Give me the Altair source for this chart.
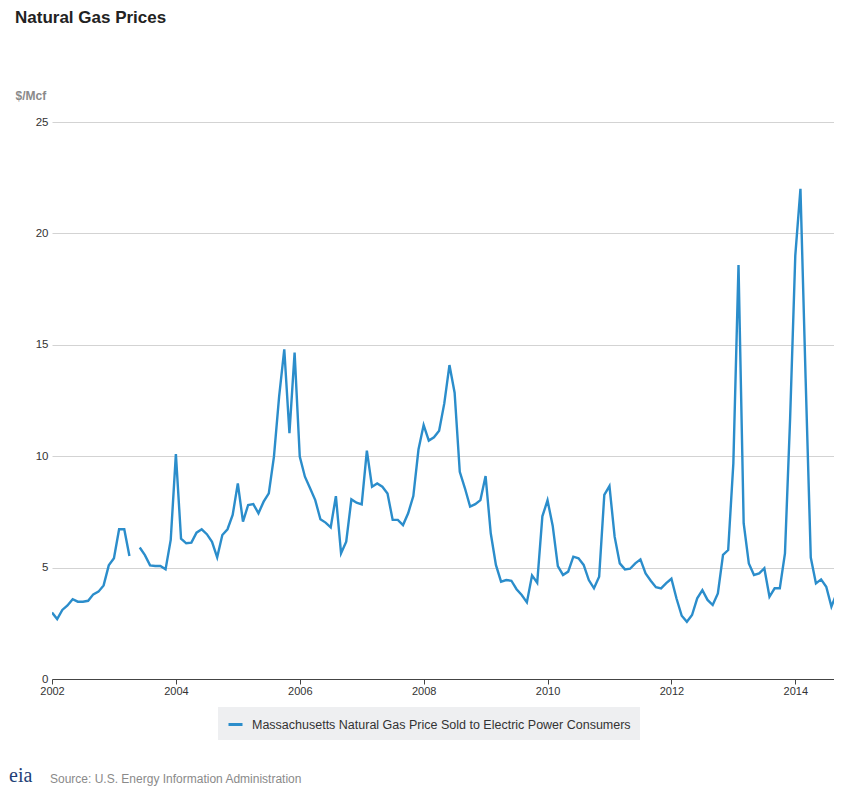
import altair as alt
import pandas as pd

# ---- data (monthly, $/Mcf) ----
start_year = 2002
p2002 = [2.98, 2.69, 3.10, 3.30, 3.58, 3.47, 3.47, 3.51, 3.80, 3.92, 4.20, 5.10]
p2003 = [5.42, 6.72, 6.72, 5.52, None, 5.90, 5.56, 5.10, 5.07, 5.07, 4.92, 6.24]
p2004 = [10.10, 6.30, 6.09, 6.12, 6.57, 6.72, 6.50, 6.16, 5.46, 6.46, 6.72, 7.36]
p2005 = [8.78, 7.06, 7.81, 7.85, 7.44, 7.96, 8.33, 9.98, 12.67, 14.80, 11.03, 14.65]
p2006 = [9.98, 9.08, 8.56, 8.03, 7.17, 7.02, 6.81, 8.21, 5.64, 6.16, 8.06, 7.91]
p2007 = [7.84, 10.25, 8.63, 8.78, 8.63, 8.33, 7.14, 7.14, 6.91, 7.44, 8.21, 10.30]
p2008 = [11.40, 10.70, 10.85, 11.14, 12.37, 14.09, 12.85, 9.30, 8.56, 7.74, 7.85, 8.03]
p2009 = [9.11, 6.54, 5.12, 4.37, 4.44, 4.41, 4.03, 3.77, 3.44, 4.65, 4.32, 7.30]
p2010 = [8.02, 6.88, 5.07, 4.67, 4.82, 5.49, 5.42, 5.12, 4.44, 4.07, 4.59, 8.26]
p2011 = [8.66, 6.39, 5.19, 4.92, 4.95, 5.19, 5.37, 4.74, 4.41, 4.12, 4.07, 4.30]
p2012 = [4.50, 3.60, 2.84, 2.57, 2.87, 3.62, 3.99, 3.55, 3.32, 3.84, 5.57, 5.79]
p2013 = [9.68, 18.58, 6.99, 5.19, 4.67, 4.74, 4.97, 3.69, 4.07, 4.07, 5.64, 11.70]
p2014 = [19.00, 22.00, 13.50, 5.45, 4.29, 4.47, 4.14, 3.25, 3.84]

yearly = [p2002, p2003, p2004, p2005, p2006, p2007, p2008,
          p2009, p2010, p2011, p2012, p2013, p2014]

series_name = "Massachusetts Natural Gas Price Sold to Electric Power Consumers"
title_text = "Natural Gas Prices"
unit_text = "$/Mcf"
source_text = "Source: U.S. Energy Information Administration"
logo_text = "eia"
x_ticks = [2002, 2004, 2006, 2008, 2010, 2012, 2014]
y_ticks = [0, 5, 10, 15, 20, 25]

rows = []
seg = 0
for yi, vals in enumerate(yearly):
    for mi, v in enumerate(vals):
        if v is None:
            seg += 1
            continue
        rows.append({"t": start_year + yi + mi / 12.0, "price": v,
                     "seg": seg, "series": series_name})
df = pd.DataFrame(rows)

FONT = "Liberation Sans, Arial, sans-serif"
BLUE = "#2b8dcb"

line = alt.Chart(df).mark_line(strokeWidth=2.4, clip=True).encode(
    x=alt.X("t:Q",
            scale=alt.Scale(domain=[2002, 2014 + 7.5 / 12], nice=False, zero=False),
            axis=alt.Axis(values=x_ticks, format="d", title=None, grid=False,
                          domainColor="#444", domainWidth=1.2, tickColor="#444",
                          tickSize=5, labelFontSize=11, labelColor="#333",
                          labelFont=FONT, labelPadding=1, labelFlush=False)),
    y=alt.Y("price:Q",
            scale=alt.Scale(domain=[0, 25], nice=False),
            axis=alt.Axis(values=y_ticks, title=unit_text, titleAngle=0,
                          titleX=-37, titleY=-27, titleAlign="left",
                          titleBaseline="middle", titleFontWeight="bold",
                          titleColor="#8a8a8a", titleFontSize=12, titleFont=FONT,
                          domain=False, ticks=False, labelPadding=4,
                          labelFontSize=11.5, labelColor="#333", labelFont=FONT,
                          gridColor="#d3d3d3", gridWidth=1)),
    color=alt.Color("series:N",
                    scale=alt.Scale(range=[BLUE]),
                    legend=alt.Legend(orient="none", legendX=166, legendY=585,
                                      title=None, fillColor="#eeeff1", padding=9,
                                      symbolType="stroke", symbolStrokeWidth=3,
                                      symbolSize=196, labelFontSize=12.5,
                                      labelColor="#333", labelFont=FONT,
                                      labelOffset=8, labelLimit=1000)),
    detail="seg:N",
)

title = alt.Chart(pd.DataFrame({"text": [title_text]})).mark_text(
    align="left", baseline="middle", fontSize=17, fontWeight="bold",
    font=FONT, color="#222"
).encode(x=alt.value(-37), y=alt.value(-104), text="text:N")

source = alt.Chart(pd.DataFrame({"text": [source_text]})).mark_text(
    align="left", baseline="bottom", fontSize=12, font=FONT, color="#8a8a8a"
).encode(x=alt.value(-2), y=alt.value(664), text="text:N")

logo = alt.Chart(pd.DataFrame({"text": [logo_text]})).mark_text(
    align="left", baseline="bottom", fontSize=20,
    font="Liberation Serif, DejaVu Serif, serif", color="#1f3f77"
).encode(x=alt.value(-43), y=alt.value(664), text="text:N")

chart = alt.layer(line, title, source, logo).properties(
    width=782, height=557,
    autosize=alt.AutoSizeParams(type="none"),
    padding={"left": 44, "top": 114, "right": 0, "bottom": 109},
    background="white",
).configure_view(stroke=None)

chart.save("out.html", embed_options={"renderer": "svg", "actions": False})
